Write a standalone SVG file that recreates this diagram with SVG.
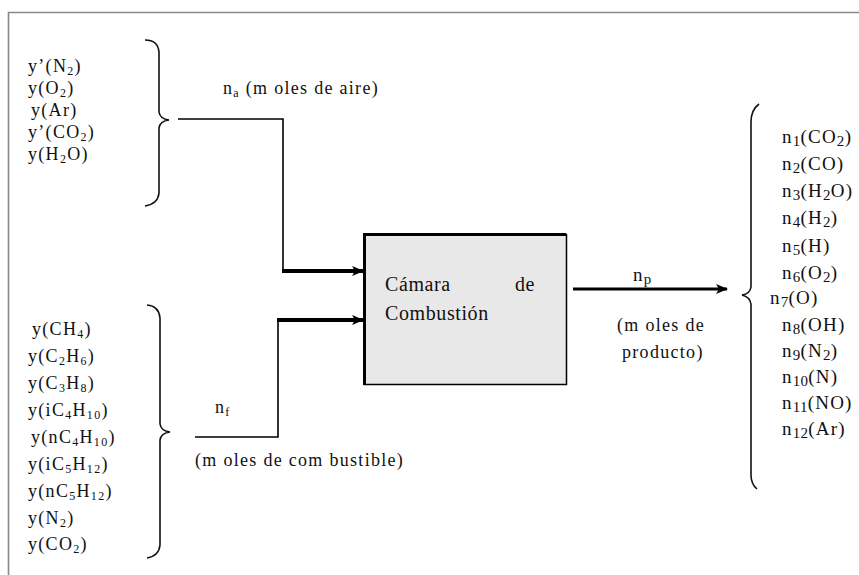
<svg xmlns="http://www.w3.org/2000/svg" width="859" height="575" viewBox="0 0 859 575" font-family="'Liberation Serif', 'Times New Roman', 'DejaVu Serif', serif">
<style>
text{font-family:'Liberation Serif','Times New Roman','DejaVu Serif',serif;fill:#111;}
.l{font-size:18px;letter-spacing:1.3px;}
.r{font-size:19px;letter-spacing:1.2px;}
.b{font-size:20px;letter-spacing:0.6px;}
.s{font-size:12px;}
.rs{font-size:15px;letter-spacing:0.3px;}
.brace{fill:none;stroke:#111;stroke-width:1.6;}
.wire{fill:none;stroke:#000;stroke-width:1.6;}
.thick{fill:none;stroke:#000;stroke-width:4;}
</style>
<defs>
<marker id="ah" markerWidth="12" markerHeight="10" refX="11" refY="5" orient="auto" markerUnits="userSpaceOnUse">
<path d="M0,0 L12,5 L0,10 L3,5 Z" fill="#000"/>
</marker>
</defs>
<rect width="859" height="575" fill="#fff"/>
<path d="M8.5,575 L8.5,12.5 L859,12.5" fill="none" stroke="#888" stroke-width="1.6"/>

<g id="aire">
<text class="l" x="28" y="72">y’(N<tspan class="s" dy="3">2</tspan><tspan dy="-3">)</tspan></text>
<text class="l" x="28" y="94">y(O<tspan class="s" dy="3">2</tspan><tspan dy="-3">)</tspan></text>
<text class="l" x="31" y="116">y(Ar)</text>
<text class="l" x="28" y="138">y’(CO<tspan class="s" dy="3">2</tspan><tspan dy="-3">)</tspan></text>
<text class="l" x="28" y="160">y(H<tspan class="s" dy="3">2</tspan><tspan dy="-3">O)</tspan></text>
<path class="brace" d="M145,40 Q158,40 159,52 L159,112 Q160,119 169,120 Q160,121 159,128 L159,193 Q158,204 145,206"/>
</g>

<g id="combustible">
<text class="l" x="32" y="335">y(CH<tspan class="s" dy="3">4</tspan><tspan dy="-3">)</tspan></text>
<text class="l" x="28" y="362">y(C<tspan class="s" dy="3">2</tspan><tspan dy="-3">H</tspan><tspan class="s" dy="3">6</tspan><tspan dy="-3">)</tspan></text>
<text class="l" x="28" y="389">y(C<tspan class="s" dy="3">3</tspan><tspan dy="-3">H</tspan><tspan class="s" dy="3">8</tspan><tspan dy="-3">)</tspan></text>
<text class="l" x="28" y="416">y(iC<tspan class="s" dy="3">4</tspan><tspan dy="-3">H</tspan><tspan class="s" dy="3">10</tspan><tspan dy="-3">)</tspan></text>
<text class="l" x="31" y="443">y(nC<tspan class="s" dy="3">4</tspan><tspan dy="-3">H</tspan><tspan class="s" dy="3">10</tspan><tspan dy="-3">)</tspan></text>
<text class="l" x="28" y="470">y(iC<tspan class="s" dy="3">5</tspan><tspan dy="-3">H</tspan><tspan class="s" dy="3">12</tspan><tspan dy="-3">)</tspan></text>
<text class="l" x="28" y="497">y(nC<tspan class="s" dy="3">5</tspan><tspan dy="-3">H</tspan><tspan class="s" dy="3">12</tspan><tspan dy="-3">)</tspan></text>
<text class="l" x="28" y="524">y(N<tspan class="s" dy="3">2</tspan><tspan dy="-3">)</tspan></text>
<text class="l" x="28" y="550">y(CO<tspan class="s" dy="3">2</tspan><tspan dy="-3">)</tspan></text>
<path class="brace" d="M147,305 Q159,306 160,318 L160,424 Q161,431 170,432 Q161,433 160,440 L160,545 Q159,556 147,558"/>
</g>

<g id="camara">
<rect x="364.5" y="234.5" width="202" height="150" fill="#e8e8e8" stroke="#000" stroke-width="1.5"/>
<path d="M364.5,385 L364.5,234.5 L566,234.5" fill="none" stroke="#000" stroke-width="3"/>
<text class="b" x="385" y="291">Cámara</text>
<text class="b" x="535" y="291" text-anchor="end">de</text>
<text class="b" x="385" y="320">Combustión</text>
</g>

<g id="productos">
<text class="r" x="782" y="143">n<tspan class="rs" dy="3">1</tspan><tspan dy="-3">(CO</tspan><tspan class="rs" dy="3">2</tspan><tspan dy="-3">)</tspan></text>
<text class="r" x="782" y="170">n<tspan class="rs" dy="3">2</tspan><tspan dy="-3">(CO)</tspan></text>
<text class="r" x="782" y="197">n<tspan class="rs" dy="3">3</tspan><tspan dy="-3">(H</tspan><tspan class="rs" dy="3">2</tspan><tspan dy="-3">O)</tspan></text>
<text class="r" x="782" y="224">n<tspan class="rs" dy="3">4</tspan><tspan dy="-3">(H</tspan><tspan class="rs" dy="3">2</tspan><tspan dy="-3">)</tspan></text>
<text class="r" x="782" y="252">n<tspan class="rs" dy="3">5</tspan><tspan dy="-3">(H)</tspan></text>
<text class="r" x="782" y="279">n<tspan class="rs" dy="3">6</tspan><tspan dy="-3">(O</tspan><tspan class="rs" dy="3">2</tspan><tspan dy="-3">)</tspan></text>
<text class="r" x="770" y="304">n<tspan class="rs" dy="3">7</tspan><tspan dy="-3">(O)</tspan></text>
<text class="r" x="782" y="331">n<tspan class="rs" dy="3">8</tspan><tspan dy="-3">(OH)</tspan></text>
<text class="r" x="782" y="357">n<tspan class="rs" dy="3">9</tspan><tspan dy="-3">(N</tspan><tspan class="rs" dy="3">2</tspan><tspan dy="-3">)</tspan></text>
<text class="r" x="782" y="383">n<tspan class="rs" dy="3">10</tspan><tspan dy="-3">(N)</tspan></text>
<text class="r" x="782" y="409">n<tspan class="rs" dy="3">11</tspan><tspan dy="-3">(NO)</tspan></text>
<text class="r" x="782" y="435">n<tspan class="rs" dy="3">12</tspan><tspan dy="-3">(Ar)</tspan></text>
<path class="brace" d="M759,104 Q751,110 751,122 L751,287 Q750,294 742,295 Q750,297 751,304 L751,475 Q751,484 757,489"/>
</g>

<g id="connectors">
<path class="wire" d="M178,119 L283,119 L283,271"/>
<path class="thick" d="M282,271 L363,271" marker-end="url(#ah)"/>
<path class="wire" d="M195,437 L278,437 L278,320"/>
<path class="thick" d="M277,320 L363,320" marker-end="url(#ah)"/>
<path d="M573,289 L727,289" fill="none" stroke="#000" stroke-width="3" marker-end="url(#ah)"/>
</g>

<g id="labels">
<text class="l" x="223" y="94">n<tspan class="s" dy="3">a</tspan><tspan dy="-3"> (m oles de aire)</tspan></text>
<text class="l" x="215" y="413">n<tspan class="s" dy="3">f</tspan></text>
<text class="l" x="195" y="466">(m oles de com bustible)</text>
<text class="r" x="633" y="281">n<tspan class="rs" dy="3">p</tspan></text>
<text class="l" x="617" y="331">(m oles de</text>
<text class="l" x="622" y="358">producto)</text>
</g>
</svg>
